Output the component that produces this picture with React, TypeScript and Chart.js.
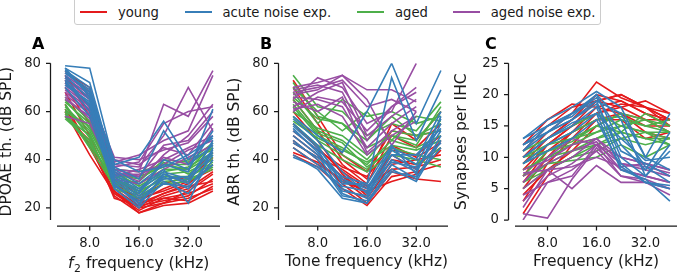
import React, { useEffect, useRef } from "react";
import { Chart, registerables } from "chart.js";

Chart.register(...registerables);

// Half-octave stimulus frequencies (kHz)
const FREQS = [5.66, 8, 11.31, 16, 22.63, 32, 45.25];
const X_TICKS = [8, 16, 32];
const DB_TICKS = [20, 40, 60, 80];
const SYN_TICKS = [0, 5, 10, 15, 20, 25];

const GROUP_LABELS = ["young", "acute noise exp.", "aged", "aged noise exp."];
const GROUP_COLORS = ["#e41a1c", "#377eb8", "#4daf4a", "#984ea3"];

type Row = (number | null)[];

// ---- DPOAE thresholds (dB SPL), one row per animal ----
const DPOAE_YOUNG: Row[] = [
  [61, 46, 25, 18, 22, 24, 28],
  [60, 42, 26, 19, 24, 26, 30],
  [63, 45, 27, 20, 25, 28, 35],
  [75, 58, 28, 21, 23, 25, 32],
  [77, 68, 30, 22, 26, 30, 38],
  [74, 65, 32, 23, 28, 32, 41],
  [72, 62, 27, 18, 21, 22, 27],
  [70, 55, 29, 24, 27, 31, 36],
  [76, 70, 33, 25, 30, 33, 43],
  [68, 50, 26, 20, 22, 27, 34],
  [58, 48, 24, 21, 26, 29, 31],
  [73, 60, 31, 22, 24, 23, 29],
];
const DPOAE_ACUTE: Row[] = [
  [79, 78, 38, 41, 56, 40, 50],
  [77, 70, 35, 28, 36, 22, 45],
  [76, 68, 32, 25, 34, 30, 48],
  [78, 72, 36, 30, 38, 35, 61],
  [75, 65, 30, 22, 33, 28, 42],
  [74, 62, 28, 20, 31, 26, 40],
  [73, 60, 31, 24, 32, 33, 44],
  [72, 63, 34, 27, 35, 32, 47],
  [78, 66, 33, 26, 40, 36, 52],
  [70, 58, 29, 23, 30, 29, 38],
  [76, 69, 37, 32, 52, 38, 46],
  [71, 64, 30, 21, 34, 31, 43],
  [77, 67, 40, 35, 37, 42, 49],
];
const DPOAE_AGED: Row[] = [
  [57, 48, 30, 26, 33, 33, 38],
  [58, 50, 32, 28, 34, 35, 40],
  [60, 45, 29, 25, 31, 32, 36],
  [62, 52, 33, 30, 36, 36, 42],
  [64, 55, 34, 32, 38, 38, 45],
  [65, 53, 35, 29, 35, 37, 43],
  [59, 47, 31, 27, 39, 34, 41],
  [61, 51, 30, 31, 40, 39, 47],
  [63, 49, 28, 24, 30, 31, 37],
  [60, 54, 33, 33, 37, 40, 44],
  [66, 56, 36, 35, 38, 36, 46],
  [58, 46, 32, 27, 32, 33, 39],
];
const DPOAE_AGED_NOISE: Row[] = [
  [58, 55, 34, 33, 46, 48, 60],
  [70, 62, 36, 35, 63, 58, 77],
  [72, 65, 38, 37, 50, 70, 52],
  [68, 60, 35, 31, 42, 50, 63],
  [74, 67, 40, 38, 45, 42, 55],
  [65, 58, 33, 36, 40, 45, 50],
  [75, 68, 37, 39, 55, 60, 62],
  [71, 63, 34, 34, 38, 44, 48],
  [69, 61, 39, 42, 48, 52, 75],
  [66, 57, 32, 30, 36, 41, 46],
  [73, 66, 41, 40, 44, 47, 58],
  [67, 59, 36, 33, 41, 38, 53],
];

// ---- ABR thresholds (dB SPL) ----
const ABR_YOUNG: Row[] = [
  [48, 40, 30, 22, 35, 32, 31],
  [42, 37, 28, 21, 33, 35, 38],
  [45, 38, 32, 24, 38, 40, 42],
  [50, 42, 33, 26, 40, 38, 45],
  [55, 45, 35, 28, 42, 36, 48],
  [60, 48, 34, 25, 44, 42, 50],
  [65, 52, 38, 30, 50, 45, 55],
  [70, 55, 40, 32, 55, 48, 60],
  [73, 58, 42, 35, 52, 50, 52],
  [47, 41, 36, 29, 36, 37, 40],
  [43, 39, 31, 27, 31, 34, 44],
  [52, 44, 37, 33, 46, 41, 47],
];
const ABR_ACUTE: Row[] = [
  [58, 50, 43, 60, 80, 55, 77],
  [55, 46, 30, 30, 74, 48, 69],
  [52, 44, 28, 24, 40, 35, 55],
  [50, 42, 26, 22, 38, 32, 50],
  [48, 40, 25, 23, 36, 31, 48],
  [45, 38, 27, 25, 42, 36, 52],
  [42, 36, 24, 22, 35, 33, 45],
  [41, 37, 29, 27, 44, 38, 57],
  [54, 45, 32, 28, 45, 40, 60],
  [57, 48, 35, 26, 42, 42, 53],
  [53, 43, 31, 29, 39, 37, 47],
  [47, 41, 33, 30, 46, 34, 58],
];
const ABR_AGED: Row[] = [
  [75, 62, 60, 50, 55, 52, 64],
  [72, 58, 55, 45, 50, 48, 60],
  [68, 55, 65, 58, 60, 55, 58],
  [65, 52, 48, 40, 52, 50, 55],
  [62, 50, 45, 38, 48, 45, 50],
  [58, 48, 42, 36, 45, 42, 40],
  [55, 46, 40, 35, 42, 40, 37],
  [60, 53, 50, 42, 50, 46, 62],
  [70, 60, 52, 60, 48, 58, 56],
  [66, 57, 55, 48, 58, 50, 52],
  [63, 51, 47, 37, 44, 38, 45],
  [56, 49, 44, 39, 46, 44, 48],
];
const ABR_AGED_NOISE: Row[] = [
  [70, 72, 75, 69, 69, 64, null],
  [68, 70, 73, 62, 65, 60, null],
  [65, 74, 70, 55, 60, 80, null],
  [62, 68, 72, 50, 58, 65, null],
  [66, 65, 62, 45, 55, 62, null],
  [69, 71, 68, 48, 62, 70, null],
  [64, 60, 66, 43, 52, 58, null],
  [61, 63, 58, 42, 50, 56, null],
  [67, 69, 75, 65, 46, 60, null],
  [60, 66, 64, 52, 62, 68, null],
];

// ---- Synapse counts per inner hair cell ----
const SYN_YOUNG: Row[] = [
  [1, 7, 12, 16, 17, 15, 15],
  [3, 9, 13, 17, 18, 16, 16],
  [5, 10, 14, 18, 19, 17, 15],
  [7, 12, 15, 19, 20, 18, 17],
  [9, 13, 16, 20, 19, 17, 16],
  [10, 14, 17, 22, 19.5, 18, 16],
  [11, 15, 18, 19, 18, 19, 17],
  [12, 16, 18.5, 18, 17, 16, 14],
  [6, 11, 14, 16, 16, 13, 14],
  [8, 12, 15, 17, 18.5, 18, 15],
  [4, 8, 11, 15, 17, 14, 13],
  [10, 13, 16, 19, 20, 18, 16],
];
const SYN_ACUTE: Row[] = [
  [13, 16, 18, 20.5, 18, 10, 17],
  [12, 15, 17, 20, 12, 8, 14],
  [11, 14, 16, 19, 10, 7, 11],
  [10, 13, 15, 18, 9, 6, 5],
  [9, 12, 14, 17, 8, 6.5, 3],
  [12, 14, 16, 18.5, 11, 9, 7],
  [11, 15, 17, 19.5, 14, 8.5, 6],
  [10, 13, 15.5, 17, 13, 9.5, 10],
  [13, 15, 16.5, 20, 16, 7, 12],
  [12, 14, 17, 19, 17, 10, 8],
  [9, 11, 13, 16, 8.5, 6, 5.5],
];
const SYN_AGED: Row[] = [
  [5, 8, 10, 12, 14, 13, 13],
  [7, 9, 11, 13, 15, 14, 12],
  [8, 10, 12, 14, 16, 15, 14],
  [9, 11, 13, 15, 17, 16, 15],
  [10, 12, 14, 16, 16.5, 15, 16],
  [11, 13, 15, 17, 15, 14, 13],
  [6, 9, 9.5, 10, 12, 10, 12],
  [8, 10, 11, 12, 13, 12, 13],
  [9, 12, 13, 14, 15, 16, 14],
  [7, 11, 12.5, 15, 14, 17, 15],
  [10, 11, 12, 13, 14, 13, 12],
  [6, 8, 10, 11, 13, 14, 14],
];
const SYN_AGED_NOISE: Row[] = [
  [0, 6, 7, 12, 10, 9, 8],
  [1, 0.3, 6.5, 11.5, 8, 7, 6],
  [2, 8, 5, 8.7, 6, 6, 5],
  [3, 7, 9, 12, 7, 6, 4],
  [5, 8, 10, 13, 9, 8, 7],
  [7, 9, 11, 12.5, 8, 7, 6],
  [8, 9.5, 12, 13, 10, 9, 8],
  [7.5, 8, 8.5, 10, 8.5, 9, 7],
  [4, 6, 8, 11, 7, 6.5, 5],
  [6, 10, 13, 12, 9, 8.5, 7.5],
];

const FONT = '"DejaVu Sans", sans-serif';
const TEXT = "#1a1a1a";
const TICK_SIZE = 13.2;
const TITLE_SIZE = 15.5;

type PanelSpec = {
  letter: string;
  letterX: number;
  left: number;
  width: number;
  yWidth: number;
  padRight: number;
  yMin: number;
  yMax: number;
  yTicks: number[];
  yTitle: string;
  xTitle: string | null;
  // groups in painting order (first painted at the bottom)
  groups: { color: number; rows: Row[] }[];
};

const PANELS: PanelSpec[] = [
  {
    letter: "A", letterX: 32, left: -1, width: 223, yWidth: 58, padRight: 2,
    yMin: 15, yMax: 80, yTicks: DB_TICKS, yTitle: "DPOAE th. (dB SPL)", xTitle: null,
    groups: [
      { color: 0, rows: DPOAE_YOUNG },
      { color: 2, rows: DPOAE_AGED },
      { color: 3, rows: DPOAE_AGED_NOISE },
      { color: 1, rows: DPOAE_ACUTE },
    ],
  },
  {
    letter: "B", letterX: 260, left: 227, width: 223, yWidth: 58, padRight: 2,
    yMin: 15, yMax: 80, yTicks: DB_TICKS, yTitle: "ABR th. (dB SPL)", xTitle: "Tone frequency (kHz)",
    groups: [
      { color: 0, rows: ABR_YOUNG },
      { color: 2, rows: ABR_AGED },
      { color: 3, rows: ABR_AGED_NOISE },
      { color: 1, rows: ABR_ACUTE },
    ],
  },
  {
    letter: "C", letterX: 485, left: 454, width: 224, yWidth: 61, padRight: 1,
    yMin: 0, yMax: 25, yTicks: SYN_TICKS, yTitle: "Synapses per IHC", xTitle: "Frequency (kHz)",
    groups: [
      { color: 0, rows: SYN_YOUNG },
      { color: 2, rows: SYN_AGED },
      { color: 3, rows: SYN_AGED_NOISE },
      { color: 1, rows: SYN_ACUTE },
    ],
  },
];

// Offset spines with outward tick marks (seaborn-style despined axes)
const spinesPlugin = {
  id: "offsetSpines",
  afterDraw(chart: any) {
    const { ctx, chartArea: a, scales } = chart;
    const sx = a.left - 6.5;
    const sy = a.bottom + 6;
    ctx.save();
    ctx.strokeStyle = TEXT;
    ctx.lineWidth = 1.25;
    ctx.beginPath();
    ctx.moveTo(sx, a.top);
    ctx.lineTo(sx, a.bottom);
    ctx.moveTo(a.left, sy);
    ctx.lineTo(a.right, sy);
    for (const t of scales.y.ticks) {
      const p = scales.y.getPixelForValue(t.value);
      ctx.moveTo(sx - 4.5, p);
      ctx.lineTo(sx, p);
    }
    for (const t of scales.x.ticks) {
      const p = scales.x.getPixelForValue(t.value);
      ctx.moveTo(p, sy);
      ctx.lineTo(p, sy + 4.5);
    }
    ctx.stroke();
    ctx.restore();
  },
};

function makeLetterPlugin(letter: string, x: number) {
  return {
    id: "panelLetter",
    afterDraw(chart: any) {
      const { ctx } = chart;
      ctx.save();
      ctx.fillStyle = "#000";
      ctx.font = `bold 16px ${FONT}`;
      ctx.textAlign = "left";
      ctx.textBaseline = "middle";
      ctx.fillText(letter, x, 45);
      ctx.restore();
    },
  };
}

// x-axis title with an italic f and subscript 2
const f2TitlePlugin = {
  id: "f2Title",
  afterDraw(chart: any) {
    const { ctx, chartArea: a } = chart;
    const base = 268;
    ctx.save();
    ctx.fillStyle = TEXT;
    ctx.textBaseline = "alphabetic";
    ctx.textAlign = "left";
    const fItalic = `italic ${TITLE_SIZE}px ${FONT}`;
    const fSub = `${TITLE_SIZE * 0.7}px ${FONT}`;
    const fNorm = `${TITLE_SIZE}px ${FONT}`;
    const rest = " frequency (kHz)";
    ctx.font = fItalic;
    const wf = ctx.measureText("f").width;
    ctx.font = fSub;
    const w2 = ctx.measureText("2").width;
    ctx.font = fNorm;
    const wr = ctx.measureText(rest).width;
    let x = (a.left + a.right) / 2 - (wf + w2 + wr) / 2;
    ctx.font = fItalic;
    ctx.fillText("f", x, base);
    x += wf + 0.5;
    ctx.font = fSub;
    ctx.fillText("2", x, base + 3.5);
    x += w2;
    ctx.font = fNorm;
    ctx.fillText(rest, x, base);
    ctx.restore();
  },
};

function Panel({ spec }: { spec: PanelSpec }) {
  const ref = useRef<HTMLCanvasElement | null>(null);

  useEffect(() => {
    if (!ref.current) return;
    const datasets: any[] = [];
    spec.groups.forEach((g) => {
      g.rows.forEach((row) => {
        datasets.push({
          data: FREQS.map((f, i) => ({ x: f, y: row[i] })),
          borderColor: GROUP_COLORS[g.color],
          borderWidth: 1.6,
          pointRadius: 0,
          fill: false,
          tension: 0,
          spanGaps: false,
        });
      });
    });
    // Chart.js paints the first dataset on top, so hand them over reversed
    datasets.reverse();

    const plugins: any[] = [spinesPlugin, makeLetterPlugin(spec.letter, spec.letterX - spec.left)];
    if (spec.xTitle === null) plugins.push(f2TitlePlugin);

    const chart = new Chart(ref.current, {
      type: "line",
      data: { datasets },
      options: {
        animation: false,
        responsive: false,
        devicePixelRatio: 1,
        layout: { padding: { top: 63.3, right: spec.padRight, left: 0, bottom: 0 } },
        plugins: { legend: { display: false }, tooltip: { enabled: false } },
        scales: {
          x: {
            type: "logarithmic",
            min: 5.05,
            max: 50,
            grid: { display: false, drawTicks: false },
            border: { display: false },
            afterBuildTicks: (s: any) => {
              s.ticks = X_TICKS.map((v) => ({ value: v }));
            },
            afterFit: (s: any) => {
              s.height = 54;
            },
            ticks: {
              autoSkip: false,
              maxRotation: 0,
              padding: 16,
              color: TEXT,
              font: { family: FONT, size: TICK_SIZE },
              callback: (v: any) => Number(v).toFixed(1),
            },
            title: {
              display: spec.xTitle !== null,
              text: spec.xTitle ?? "",
              color: TEXT,
              font: { family: FONT, size: TITLE_SIZE },
              padding: { top: 0, bottom: 3 },
            },
          },
          y: {
            type: "linear",
            min: spec.yMin,
            max: spec.yMax,
            grid: { display: false, drawTicks: false },
            border: { display: false },
            afterBuildTicks: (s: any) => {
              s.ticks = spec.yTicks.map((v) => ({ value: v }));
            },
            afterFit: (s: any) => {
              s.width = spec.yWidth;
            },
            ticks: {
              padding: 16,
              color: TEXT,
              font: { family: FONT, size: TICK_SIZE },
              callback: (v: any) => String(v),
            },
            title: {
              display: true,
              text: spec.yTitle,
              color: TEXT,
              font: { family: FONT, size: TITLE_SIZE, lineHeight: 1 },
              padding: { top: 0, bottom: 0 },
            },
          },
        },
      },
      plugins,
    });
    return () => chart.destroy();
  }, [spec]);

  return (
    <canvas
      ref={ref}
      width={spec.width}
      height={274}
      style={{ position: "absolute", left: spec.left, top: 0, width: spec.width, height: 274 }}
    />
  );
}

const LEGEND_LINE_X = [80, 184.5, 357, 452.7];

function Legend() {
  return (
    <>
      <div
        style={{
          position: "absolute",
          left: 74,
          top: -3,
          width: 527,
          height: 28,
          boxSizing: "border-box",
          border: "1px solid #cccccc",
          borderRadius: 3,
          background: "#fff",
        }}
      />
      {GROUP_LABELS.map((label, i) => (
        <React.Fragment key={label}>
          <div
            style={{
              position: "absolute",
              left: LEGEND_LINE_X[i],
              top: 11,
              width: 27,
              height: 2,
              background: GROUP_COLORS[i],
            }}
          />
          <div
            style={{
              position: "absolute",
              left: LEGEND_LINE_X[i] + 38,
              top: 3.5,
              height: 17,
              lineHeight: "17px",
              fontFamily: FONT,
              fontSize: TICK_SIZE,
              color: TEXT,
              whiteSpace: "nowrap",
            }}
          >
            {label}
          </div>
        </React.Fragment>
      ))}
    </>
  );
}

export default function App() {
  return (
    <div
      style={{
        position: "fixed",
        left: 0,
        top: 0,
        width: 678,
        height: 274,
        overflow: "hidden",
        background: "#fff",
      }}
    >
      {PANELS.map((p) => (
        <Panel key={p.letter} spec={p} />
      ))}
      <Legend />
    </div>
  );
}
